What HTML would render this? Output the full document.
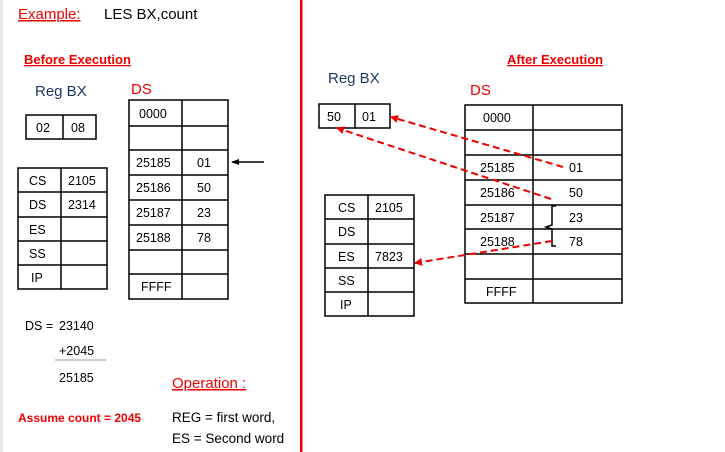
<!DOCTYPE html>
<html><head><meta charset="utf-8"><style>
html,body{margin:0;padding:0;background:#fff;}
svg{display:block;font-family:"Liberation Sans",sans-serif;}
</style></head><body>
<svg width="725" height="452" viewBox="0 0 725 452" xmlns="http://www.w3.org/2000/svg">
<defs>
<marker id="ah" markerWidth="8" markerHeight="8" refX="7" refY="4" orient="auto" markerUnits="userSpaceOnUse">
<path d="M0,0 L8,4 L0,8 z" fill="#e00"/></marker>
<marker id="bh" markerWidth="8" markerHeight="8" refX="7" refY="4" orient="auto" markerUnits="userSpaceOnUse">
<path d="M0,1 L8,4 L0,7 z" fill="#000"/></marker>
</defs>
<rect x="0" y="0" width="3" height="452" fill="#e6e6e6"/>
<rect x="300" y="0" width="2.5" height="452" fill="#e00"/>

<text x="18" y="19" font-size="15" fill="#e00" text-decoration="underline">Example:</text>
<text x="104" y="19" font-size="15" fill="#000">LES BX,count</text>
<text x="24" y="64" font-size="13" font-weight="bold" fill="#e00" text-decoration="underline">Before Execution</text>
<text x="35" y="96" font-size="15" fill="#1f3864">Reg BX</text>
<text x="131" y="94" font-size="15" fill="#e00">DS</text>

<g stroke="#000" stroke-width="1.5" fill="none">
<rect x="26" y="115" width="70" height="24"/><line x1="63" y1="115" x2="63" y2="139"/>
<rect x="18" y="168" width="89" height="121"/><line x1="61" y1="168" x2="61" y2="289"/>
<line x1="18" y1="192" x2="107" y2="192"/><line x1="18" y1="217" x2="107" y2="217"/><line x1="18" y1="241" x2="107" y2="241"/><line x1="18" y1="265" x2="107" y2="265"/>
<rect x="129" y="100" width="99" height="199"/><line x1="182" y1="100" x2="182" y2="299"/>
<line x1="129" y1="126" x2="228" y2="126"/><line x1="129" y1="150" x2="228" y2="150"/><line x1="129" y1="175" x2="228" y2="175"/><line x1="129" y1="200" x2="228" y2="200"/><line x1="129" y1="225" x2="228" y2="225"/><line x1="129" y1="250" x2="228" y2="250"/><line x1="129" y1="274" x2="228" y2="274"/>
<rect x="319" y="104" width="71" height="24"/><line x1="355" y1="104" x2="355" y2="128"/>
<rect x="325" y="195" width="89" height="121"/><line x1="368" y1="195" x2="368" y2="316"/>
<line x1="325" y1="219" x2="414" y2="219"/><line x1="325" y1="244" x2="414" y2="244"/><line x1="325" y1="268" x2="414" y2="268"/><line x1="325" y1="292" x2="414" y2="292"/>
<rect x="465" y="105" width="157" height="198"/><line x1="533" y1="105" x2="533" y2="303"/>
<line x1="465" y1="130" x2="622" y2="130"/><line x1="465" y1="155" x2="622" y2="155"/><line x1="465" y1="180" x2="622" y2="180"/><line x1="465" y1="205" x2="622" y2="205"/><line x1="465" y1="229" x2="622" y2="229"/><line x1="465" y1="254" x2="622" y2="254"/><line x1="465" y1="279" x2="622" y2="279"/>
</g>
<line x1="264" y1="162" x2="232" y2="162" stroke="#000" stroke-width="1.5" marker-end="url(#bh)"/>

<g font-size="12.5" fill="#000">
<text x="36" y="132">02</text><text x="71" y="132">08</text>
<text x="29" y="185">CS</text><text x="68" y="185">2105</text>
<text x="29" y="209">DS</text><text x="68" y="209">2314</text>
<text x="29" y="234">ES</text><text x="29" y="258">SS</text><text x="31" y="282">IP</text>
<text x="139" y="118">0000</text>
<text x="136" y="167">25185</text><text x="197" y="167">01</text>
<text x="136" y="192">25186</text><text x="197" y="192">50</text>
<text x="136" y="217">25187</text><text x="197" y="217">23</text>
<text x="136" y="242">25188</text><text x="197" y="242">78</text>
<text x="141" y="291">FFFF</text>

<text x="327" y="121">50</text><text x="362" y="121">01</text>
<text x="338" y="212">CS</text><text x="375" y="212">2105</text>
<text x="338" y="236">DS</text>
<text x="338" y="261">ES</text><text x="375" y="261">7823</text>
<text x="338" y="285">SS</text><text x="340" y="309">IP</text>
<text x="483" y="122">0000</text>
<text x="480" y="172">25185</text><text x="569" y="172">01</text>
<text x="480" y="197">25186</text><text x="569" y="197">50</text>
<text x="480" y="222">25187</text><text x="569" y="222">23</text>
<text x="480" y="246">25188</text><text x="569" y="246">78</text>
<text x="486" y="296">FFFF</text>

<text x="25" y="330">DS =</text><text x="59" y="330">23140</text>
<text x="59" y="355">+2045</text>
<text x="59" y="382">25185</text>
<text x="172" y="422" font-size="13.5">REG = first word,</text>
<text x="172" y="443" font-size="13.5">ES = Second word</text>
</g>
<line x1="55" y1="360" x2="106" y2="360" stroke="#999" stroke-width="1"/>
<text x="172" y="388" font-size="15" fill="#e00" text-decoration="underline">Operation :</text>
<text x="18" y="422" font-size="12" font-weight="bold" fill="#e00">Assume count = 2045</text>

<text x="507" y="64" font-size="13" font-weight="bold" fill="#e00" text-decoration="underline">After Execution</text>
<text x="328" y="83" font-size="15" fill="#1f3864">Reg BX</text>
<text x="470" y="95" font-size="15" fill="#e00">DS</text>

<path d="M556,206 L552,206 L552,225 L546,227 L552,229 L552,246 L556,246" fill="none" stroke="#000" stroke-width="1.5"/>

<g stroke="#e00" stroke-width="2" stroke-dasharray="7,4" fill="none">
<line x1="563" y1="167" x2="391" y2="117" marker-end="url(#ah)"/>
<line x1="551" y1="199" x2="337" y2="128" marker-end="url(#ah)"/>
<line x1="552" y1="241" x2="415" y2="263" marker-end="url(#ah)"/>
</g>
</svg>
</body></html>
